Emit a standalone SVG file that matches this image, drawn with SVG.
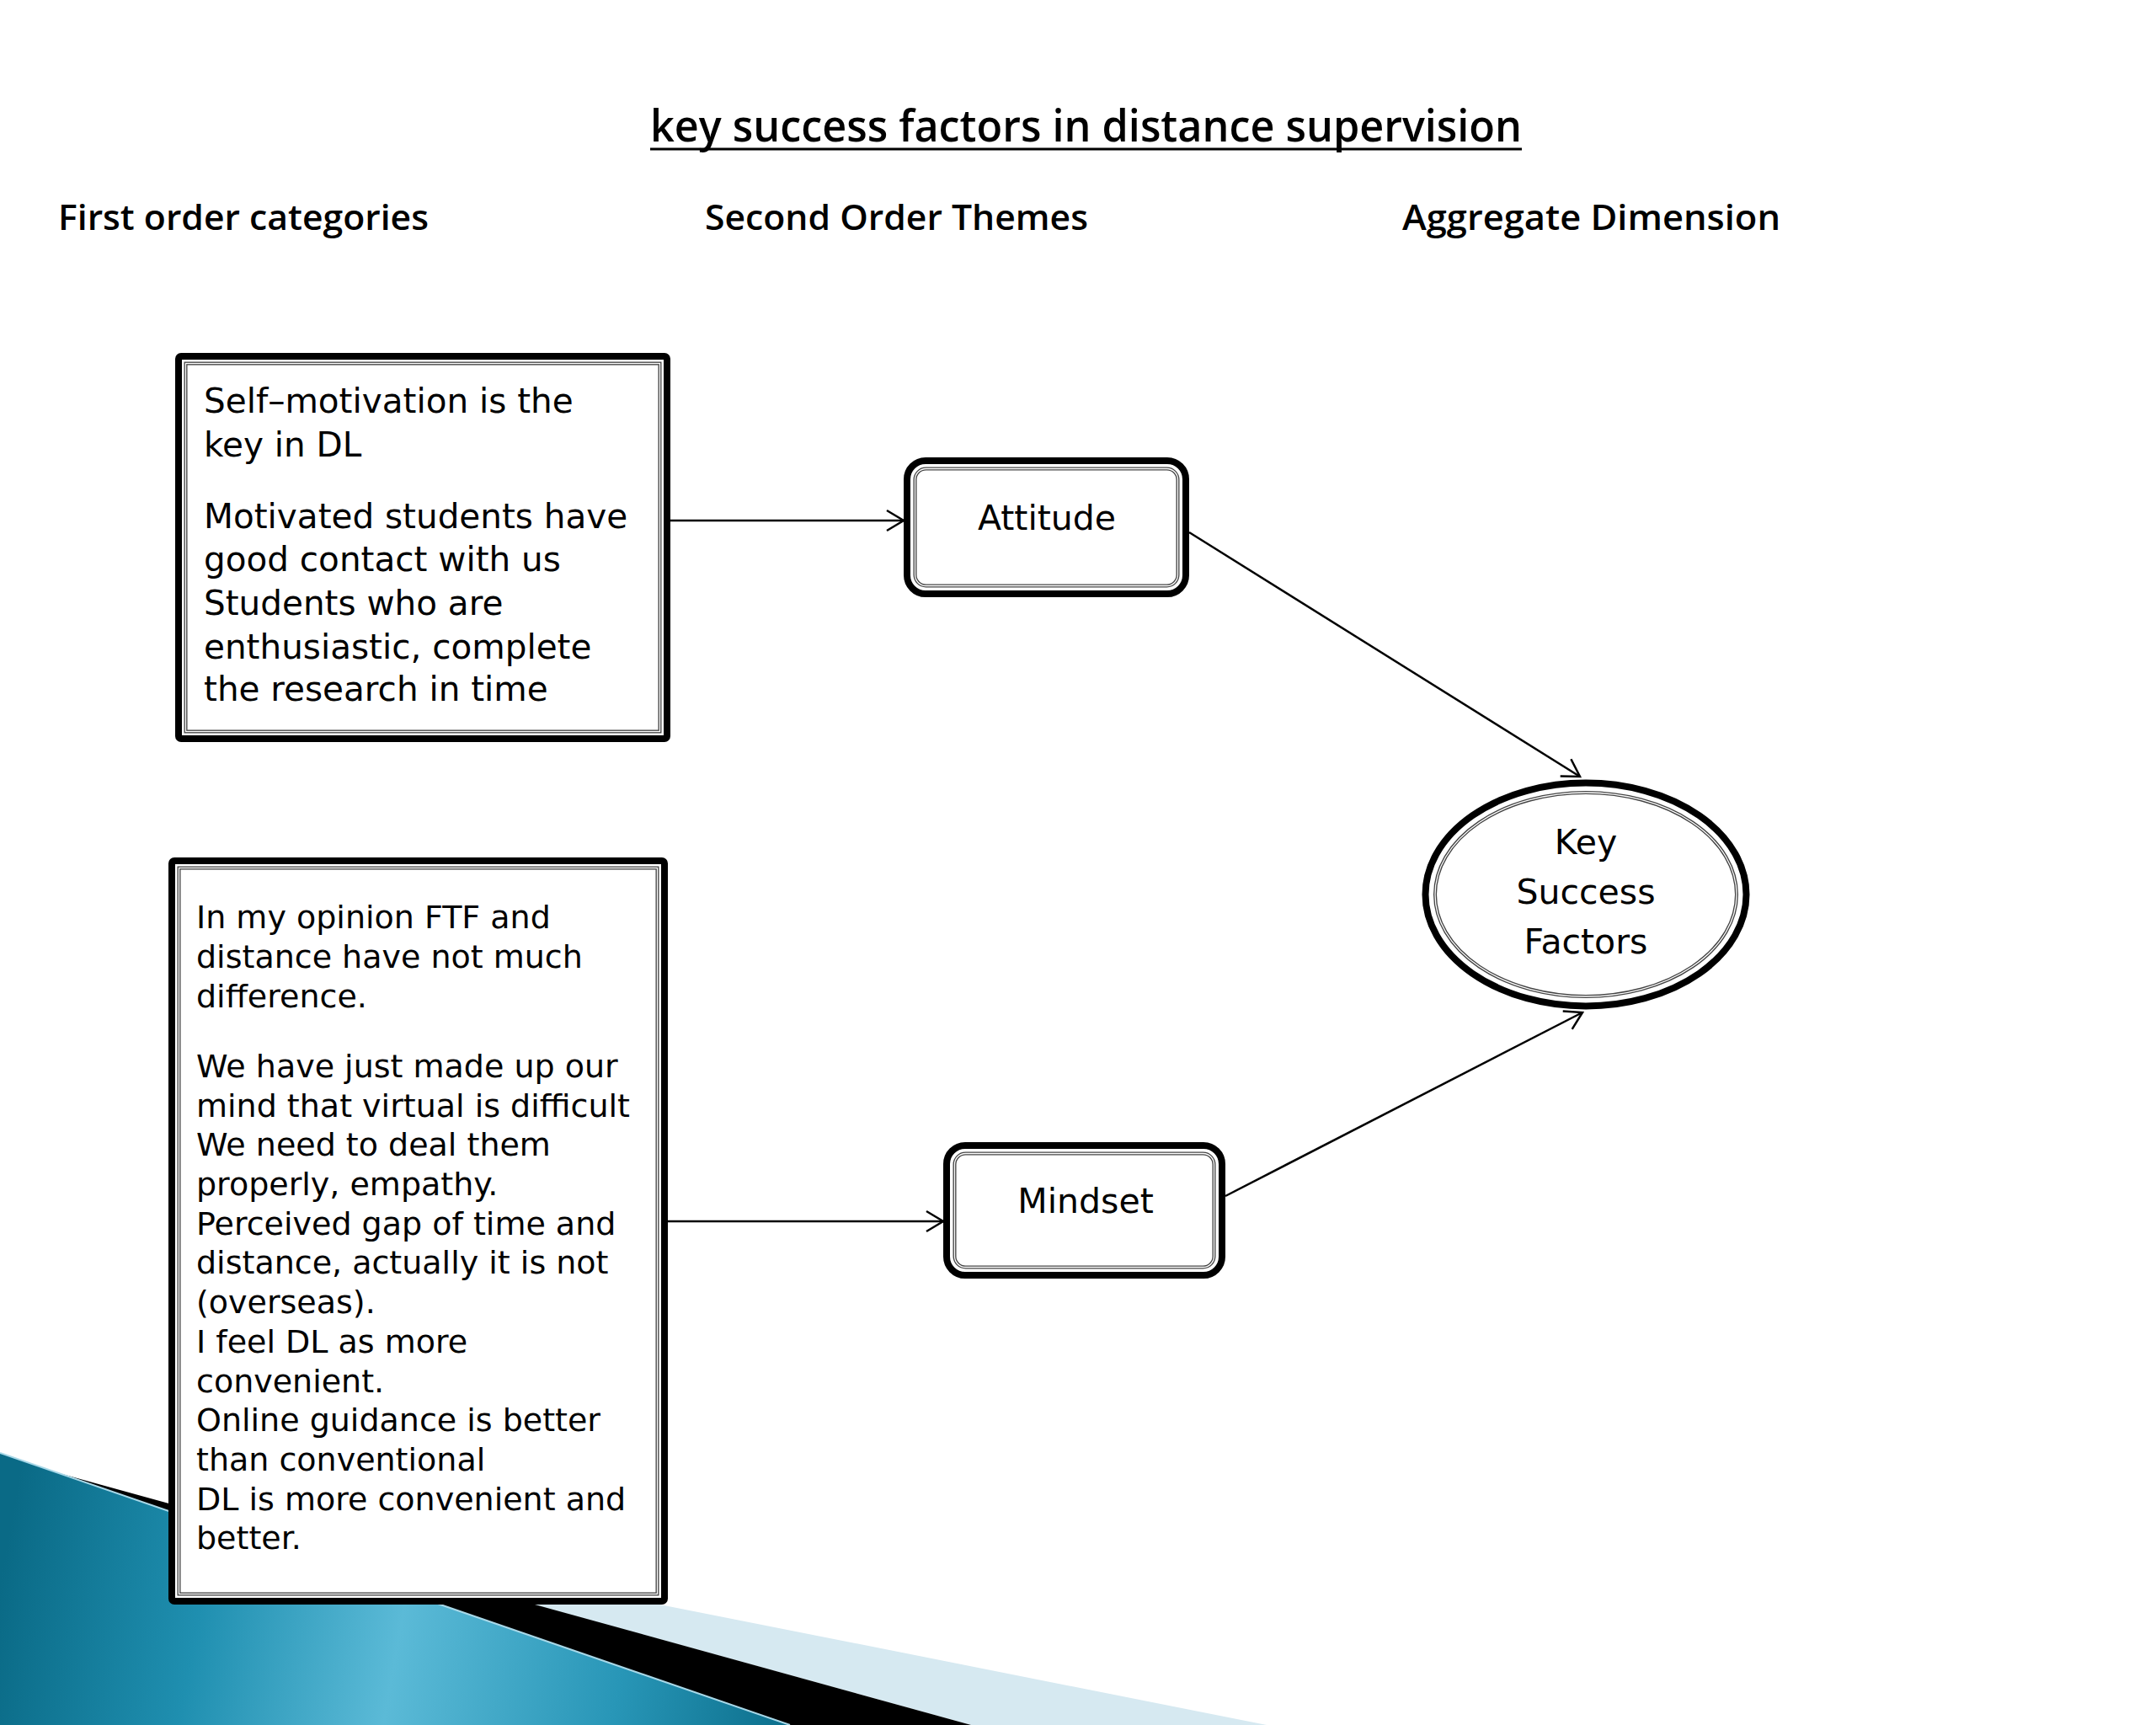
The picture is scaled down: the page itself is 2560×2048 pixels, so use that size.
<svg xmlns="http://www.w3.org/2000/svg" width="2560" height="2048" viewBox="0 0 2560 2048">
<defs>
<style>
.box{fill:#fff;stroke:#000;stroke-width:8}
.inner{fill:none;stroke:#444;stroke-width:4}
.innerw{fill:none;stroke:#fff;stroke-width:1.3}
.t1{font-family:"DejaVu Sans",Verdana,sans-serif;font-size:40.5px;fill:#000}
.t2{font-family:"DejaVu Sans",Verdana,sans-serif;font-size:38px;fill:#000}
.node{font-family:"DejaVu Sans",Verdana,sans-serif;font-size:41px;fill:#000;text-anchor:middle}
.hdr{font-family:"Open Sans","Liberation Sans",sans-serif;font-weight:600;font-size:42px;fill:#000}
.title{font-family:"Open Sans","Liberation Sans",sans-serif;font-weight:600;font-size:52px;fill:#000}
.conn{stroke:#000;stroke-width:2.5;fill:none}
</style>
<marker id="arr" markerUnits="userSpaceOnUse" viewBox="-26 -15 30 30" markerWidth="30" markerHeight="30" refX="0" refY="0" orient="auto">
<path d="M-20,-12 L0,0 L-20,12" fill="none" stroke="#000" stroke-width="2.5"/>
</marker>
<linearGradient id="teal" gradientUnits="userSpaceOnUse" x1="0" y1="1880" x2="940" y2="2048">
<stop offset="0" stop-color="#0a6a86"/>
<stop offset="0.25" stop-color="#1f8fb0"/>
<stop offset="0.5" stop-color="#5bbad7"/>
<stop offset="0.78" stop-color="#2896b7"/>
<stop offset="1" stop-color="#0b6e8b"/>
</linearGradient>
</defs>

<rect x="0" y="0" width="2560" height="2048" fill="#fff"/>

<g id="background">
<polygon points="245,1798 1504,2048 1153,2048" fill="#d6e9f1"/>
<polygon points="70,1749 1153,2048 938,2048" fill="#000"/>
<polygon points="0,1725 938,2048 0,2048" fill="url(#teal)"/>
<line x1="0" y1="1725" x2="938" y2="2048" stroke="#a8d8e8" stroke-width="2"/>
</g>

<g id="headings">
<text class="title" x="772" y="168" textLength="1035" lengthAdjust="spacingAndGlyphs">key success factors in distance supervision</text>
<line x1="772" y1="177" x2="1807" y2="177" stroke="#000" stroke-width="3"/>
<text class="hdr" x="69" y="273" textLength="440" lengthAdjust="spacingAndGlyphs">First order categories</text>
<text class="hdr" x="837" y="273" textLength="455" lengthAdjust="spacingAndGlyphs">Second Order Themes</text>
<text class="hdr" x="1665" y="273" textLength="449" lengthAdjust="spacingAndGlyphs">Aggregate Dimension</text>
</g>

<g id="connectors">
<path class="conn" d="M796,618 L1073,618" marker-end="url(#arr)"/>
<path class="conn" d="M1412,632 L1876,922" marker-end="url(#arr)"/>
<path class="conn" d="M793,1450 L1120,1450" marker-end="url(#arr)"/>
<path class="conn" d="M1455,1420 L1879,1202" marker-end="url(#arr)"/>
</g>

<g id="box-first-1">
<rect class="box" x="212" y="423" width="580" height="454" rx="3"/>
<rect class="inner" x="220.5" y="431.5" width="563" height="437"/>
<rect class="innerw" x="220.5" y="431.5" width="563" height="437"/>
<text class="t1" x="242" y="490">Self–motivation is the</text>
<text class="t1" x="242" y="542">key in DL</text>
<text class="t1" x="242" y="627">Motivated students have</text>
<text class="t1" x="242" y="678">good contact with us</text>
<text class="t1" x="242" y="730">Students who are</text>
<text class="t1" x="242" y="782">enthusiastic, complete</text>
<text class="t1" x="242" y="832">the research in time</text>
</g>

<g id="box-first-2">
<rect class="box" x="204" y="1022" width="585" height="879" rx="3"/>
<rect class="inner" x="212.5" y="1030.5" width="568" height="862"/>
<rect class="innerw" x="212.5" y="1030.5" width="568" height="862"/>
<text class="t2" x="233" y="1102">In my opinion FTF and</text>
<text class="t2" x="233" y="1149">distance have not much</text>
<text class="t2" x="233" y="1196">difference.</text>
<text class="t2" x="233" y="1279">We have just made up our</text>
<text class="t2" x="233" y="1326">mind that virtual is difficult</text>
<text class="t2" x="233" y="1372">We need to deal them</text>
<text class="t2" x="233" y="1419">properly, empathy.</text>
<text class="t2" x="233" y="1466">Perceived gap of time and</text>
<text class="t2" x="233" y="1512">distance, actually it is not</text>
<text class="t2" x="233" y="1559">(overseas).</text>
<text class="t2" x="233" y="1606">I feel DL as more</text>
<text class="t2" x="233" y="1653">convenient.</text>
<text class="t2" x="233" y="1699">Online guidance is better</text>
<text class="t2" x="233" y="1746">than conventional</text>
<text class="t2" x="233" y="1793">DL is more convenient and</text>
<text class="t2" x="233" y="1839">better.</text>
</g>

<g id="node-attitude">
<rect class="box" x="1077" y="547" width="331" height="158" rx="22"/>
<rect class="inner" x="1086.5" y="556.5" width="312" height="139" rx="13"/>
<rect class="innerw" x="1086.5" y="556.5" width="312" height="139" rx="13"/>
<text class="node" x="1243" y="629">Attitude</text>
</g>

<g id="node-mindset">
<rect class="box" x="1124" y="1360" width="327" height="154" rx="22"/>
<rect class="inner" x="1133.5" y="1369.5" width="308" height="135" rx="13"/>
<rect class="innerw" x="1133.5" y="1369.5" width="308" height="135" rx="13"/>
<text class="node" x="1289" y="1440">Mindset</text>
</g>

<g id="node-ksf">
<ellipse class="box" cx="1883" cy="1062" rx="190.5" ry="132.5" stroke-width="10"/>
<ellipse class="inner" cx="1883" cy="1062" rx="179" ry="121"/>
<ellipse class="innerw" cx="1883" cy="1062" rx="179" ry="121"/>
<text class="node" x="1883" y="1014">Key</text>
<text class="node" x="1883" y="1073">Success</text>
<text class="node" x="1883" y="1132">Factors</text>
</g>
</svg>
